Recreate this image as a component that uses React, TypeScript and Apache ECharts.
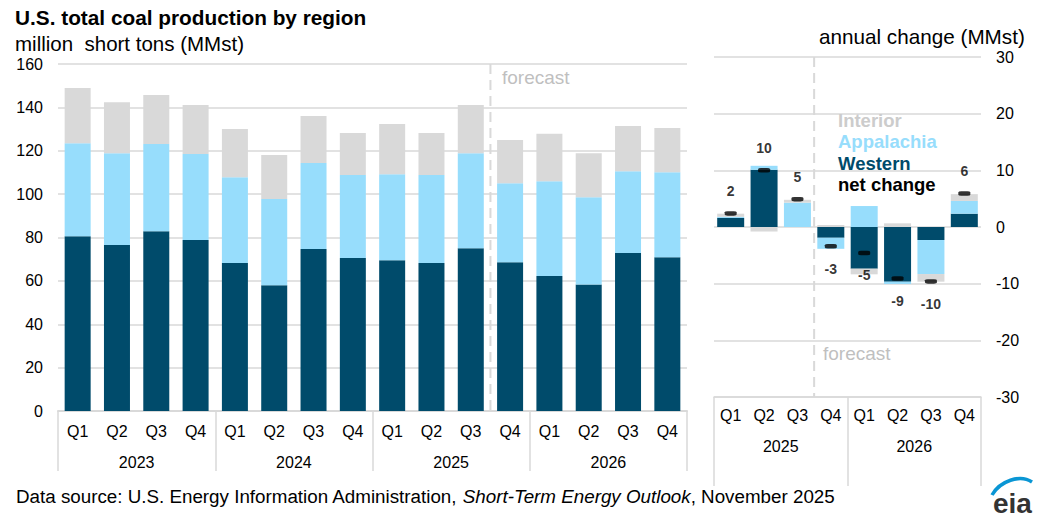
import React, { useEffect, useRef } from 'react';
import * as echarts from 'echarts';

// ---- Data: quarterly production (million short tons) ----
const quarterLabels = ['Q1', 'Q2', 'Q3', 'Q4', 'Q1', 'Q2', 'Q3', 'Q4', 'Q1', 'Q2', 'Q3', 'Q4', 'Q1', 'Q2', 'Q3', 'Q4'];
const years = ['2023', '2024', '2025', '2026'];
const western = [80.6, 76.5, 82.9, 78.8, 68.2, 58.0, 74.7, 70.5, 69.5, 68.2, 75.1, 68.6, 62.2, 58.3, 72.8, 70.9];
const appalachia = [42.9, 42.4, 40.2, 39.7, 39.6, 39.7, 39.6, 38.3, 39.7, 40.6, 43.8, 36.4, 43.7, 40.3, 37.8, 39.2];
const interior = [25.4, 23.5, 22.6, 22.6, 22.2, 20.3, 21.7, 19.4, 23.1, 19.4, 22.2, 19.9, 21.9, 20.3, 20.8, 20.4];

// ---- Data: annual change (MMst) ----
const changeQuarters = ['Q1', 'Q2', 'Q3', 'Q4', 'Q1', 'Q2', 'Q3', 'Q4'];
const changeYears = ['2025', '2026'];
const westernChange = [1.6, 10.1, 0, -1.9, -7.35, -9.65, -2.3, 2.35];
const appalachiaChange = [0.2, 0.7, 4.3, -1.95, 3.7, -0.4, -6.0, 2.25];
const interiorChange = [0.55, -0.8, 0.5, 0.35, -1.0, 0.65, -1.35, 1.2];
const netChange = [2.4, 10.0, 4.9, -3.4, -4.6, -9.1, -9.6, 5.9];

const FONT = "'Liberation Sans', Arial, sans-serif";
const GRID_GRAY = '#d9d9d9';
const C_WEST = '#004b6b';
const C_APP = '#97ddfc';
const C_INT = '#d9d9d9';

export default function App() {
  const ref = useRef<HTMLDivElement>(null);

  useEffect(() => {
    document.body.style.margin = '0';
    const chart = echarts.init(ref.current!, null, { renderer: 'svg' });

    const axisLabel = { color: '#000', fontSize: 16, fontFamily: FONT };

    const option: any = {
      animation: false,
      textStyle: { fontFamily: FONT },
      grid: [
        { left: 58, top: 64, width: 629, height: 347 },
        { left: 714, top: 57, width: 267, height: 340 },
      ],
      xAxis: [
        {
          type: 'category', gridIndex: 0, position: 'bottom', data: quarterLabels,
          axisLine: { onZero: false, lineStyle: { color: GRID_GRAY, width: 2 } },
          axisTick: { show: false },
          axisLabel: { ...axisLabel, margin: 12, interval: 0 },
        },
        {
          type: 'category', gridIndex: 0, position: 'bottom', data: years,
          axisLine: { show: false, onZero: false },
          axisTick: { show: true, length: 60, lineStyle: { color: GRID_GRAY, width: 1.5 } },
          axisLabel: { ...axisLabel, margin: 43, interval: 0 },
        },
        {
          type: 'category', gridIndex: 1, position: 'bottom', data: changeQuarters,
          axisLine: { onZero: false, lineStyle: { color: GRID_GRAY, width: 1.5 } },
          axisTick: { show: false },
          axisLabel: { ...axisLabel, margin: 10, interval: 0 },
        },
        {
          type: 'category', gridIndex: 1, position: 'bottom', data: changeYears,
          axisLine: { show: false, onZero: false },
          axisTick: { show: true, length: 89, lineStyle: { color: GRID_GRAY, width: 1.5 } },
          axisLabel: { ...axisLabel, margin: 41, interval: 0 },
        },
      ],
      yAxis: [
        {
          type: 'value', gridIndex: 0, min: 0, max: 160, interval: 20,
          axisLine: { show: false }, axisTick: { show: false },
          splitLine: { lineStyle: { color: GRID_GRAY, width: 1.5 } },
          axisLabel: { ...axisLabel, margin: 15 },
        },
        {
          type: 'value', gridIndex: 1, position: 'right', min: -30, max: 30, interval: 10,
          axisLine: { show: false }, axisTick: { show: false },
          splitLine: { lineStyle: { color: GRID_GRAY, width: 1.5 } },
          axisLabel: { ...axisLabel, margin: 15 },
        },
      ],
      series: [
        { name: 'Western', type: 'bar', stack: 'prod', xAxisIndex: 0, yAxisIndex: 0, data: western, barWidth: 26, itemStyle: { color: C_WEST } },
        { name: 'Appalachia', type: 'bar', stack: 'prod', xAxisIndex: 0, yAxisIndex: 0, data: appalachia, barWidth: 26, itemStyle: { color: C_APP } },
        { name: 'Interior', type: 'bar', stack: 'prod', xAxisIndex: 0, yAxisIndex: 0, data: interior, barWidth: 26, itemStyle: { color: C_INT } },
        { name: 'Western change', type: 'bar', stack: 'chg', xAxisIndex: 2, yAxisIndex: 1, data: westernChange, barWidth: 27, itemStyle: { color: C_WEST } },
        { name: 'Appalachia change', type: 'bar', stack: 'chg', xAxisIndex: 2, yAxisIndex: 1, data: appalachiaChange, barWidth: 27, itemStyle: { color: C_APP } },
        { name: 'Interior change', type: 'bar', stack: 'chg', xAxisIndex: 2, yAxisIndex: 1, data: interiorChange, barWidth: 27, itemStyle: { color: C_INT } },
        {
          name: 'net change', type: 'scatter', xAxisIndex: 2, yAxisIndex: 1, z: 5,
          symbol: 'roundRect', symbolSize: [12, 4.5],
          itemStyle: { color: '#000' },
          data: netChange.map((v) => ({
            value: v,
            label: { position: v >= 0 ? 'top' : 'bottom' },
          })),
          label: {
            show: true, distance: 13, color: '#000', fontSize: 14, fontWeight: 'bold', fontFamily: FONT,
            formatter: (p: any) => String(Math.round(p.value)),
          },
        },
      ],
    };

    chart.setOption(option);

    // Forecast divider positions derived from the axes
    const lx = ((chart.convertToPixel({ xAxisIndex: 0 }, 10) as number) + (chart.convertToPixel({ xAxisIndex: 0 }, 11) as number)) / 2;
    const ly1 = chart.convertToPixel({ yAxisIndex: 0 }, 160) as number;
    const ly2 = chart.convertToPixel({ yAxisIndex: 0 }, 0) as number;
    const rx = ((chart.convertToPixel({ xAxisIndex: 2 }, 2) as number) + (chart.convertToPixel({ xAxisIndex: 2 }, 3) as number)) / 2;
    const ry1 = chart.convertToPixel({ yAxisIndex: 1 }, 30) as number;
    const ry2 = chart.convertToPixel({ yAxisIndex: 1 }, -30) as number;

    const dash = { stroke: GRID_GRAY, lineWidth: 2, lineDash: [10, 6] };
    const legendStyle = (color: string) => ({ fill: color, fontSize: 18.5, fontWeight: 'bold', fontFamily: FONT });

    chart.setOption({
      graphic: [
        { type: 'line', z: 0, shape: { x1: lx, y1: ly1, x2: lx, y2: ly2 }, style: dash, silent: true },
        { type: 'line', z: 0, shape: { x1: rx, y1: ry1, x2: rx, y2: ry2 }, style: dash, silent: true },
        { type: 'text', left: 502, top: 68, style: { text: 'forecast', fill: '#bfbfbf', fontSize: 19, fontFamily: FONT } },
        { type: 'text', left: 823, top: 344, style: { text: 'forecast', fill: '#bfbfbf', fontSize: 19, fontFamily: FONT } },
        { type: 'text', left: 15, top: 7, style: { text: 'U.S. total coal production by region', fill: '#000', fontSize: 20.8, fontWeight: 'bold', fontFamily: FONT } },
        { type: 'text', left: 15, top: 33, style: { text: 'million  short tons (MMst)', fill: '#000', fontSize: 20.5, fontFamily: FONT } },
        { type: 'text', left: 819, top: 26, style: { text: 'annual change (MMst)', fill: '#000', fontSize: 20.7, fontFamily: FONT } },
        { type: 'text', left: 838, top: 111, style: { text: 'Interior', ...legendStyle('#cccccc') } },
        { type: 'text', left: 838, top: 132, style: { text: 'Appalachia', ...legendStyle('#97ddfc') } },
        { type: 'text', left: 838, top: 154, style: { text: 'Western', ...legendStyle(C_WEST) } },
        { type: 'text', left: 838, top: 175, style: { text: 'net change', ...legendStyle('#000') } },
        {
          type: 'text', left: 16, top: 487,
          style: {
            text: 'Data source: U.S. Energy Information Administration, {i|Short-Term Energy Outlook}, November 2025',
            fill: '#000', fontSize: 18.8, fontFamily: FONT,
            rich: { i: { fontStyle: 'italic', fontSize: 18.8, fontFamily: FONT, fill: '#000' } },
          },
        },
        {
          type: 'bezierCurve',
          shape: { x1: 992, y1: 495, cpx1: 1000, cpy1: 481, cpx2: 1020, cpy2: 474, x2: 1032, y2: 482 },
          style: { stroke: '#0a96d4', lineWidth: 3.5, fill: 'none' },
        },
        { type: 'text', left: 993, top: 489, style: { text: 'eia', fill: '#333', fontSize: 28, fontWeight: 'bold', fontFamily: FONT } },
      ],
    });

    return () => chart.dispose();
  }, []);

  return <div ref={ref} style={{ width: 1044, height: 520 }} />;
}
